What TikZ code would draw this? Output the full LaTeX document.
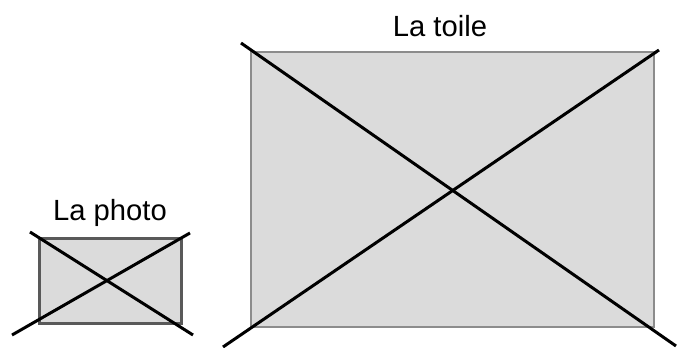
\documentclass[tikz,border=0pt]{standalone}
\usepackage{fontspec}
\setmainfont{Liberation Sans}
\begin{document}
\begin{tikzpicture}[x=0.5pt, y=-0.5pt, every node/.style={font=\fontsize{14.6}{17}\selectfont}]
    \useasboundingbox (0,0) rectangle (677,348);

    % Corners of the photo
    \coordinate (PA) at (40,239);
    \coordinate (PC) at (182,324);
    % Ends of the photo's cross
    \coordinate (PTL) at (30,232);
    \coordinate (PTR) at (190,233);
    \coordinate (PBL) at (12,335);
    \coordinate (PBR) at (193,335);

    % Corners of the canvas
    \coordinate (TA) at (251,52);
    \coordinate (TC) at (654,327);
    % Ends of the canvas' cross
    \coordinate (TTL) at (241,43);
    \coordinate (TTR) at (659,50);
    \coordinate (TBL) at (223,347);
    \coordinate (TBR) at (676,346);

    % Draw photo
    \filldraw[fill=black!14, draw=black!65, line width=1.5pt] (PA) rectangle (PC);
    \node (photo) at (110,213) {La photo};

    % Draw canvas
    \filldraw[fill=black!14, draw=black!45, line width=1pt] (TA) rectangle (TC);
    \node (toile) at (440,26) {La toile};

    % Crosses
    \draw[line width=1.5pt] (PTL) -- (PBR);
    \draw[line width=1.5pt] (PBL) -- (PTR);
    \draw[line width=1.5pt] (TTL) -- (TBR);
    \draw[line width=1.5pt] (TBL) -- (TTR);
\end{tikzpicture}
\end{document}
